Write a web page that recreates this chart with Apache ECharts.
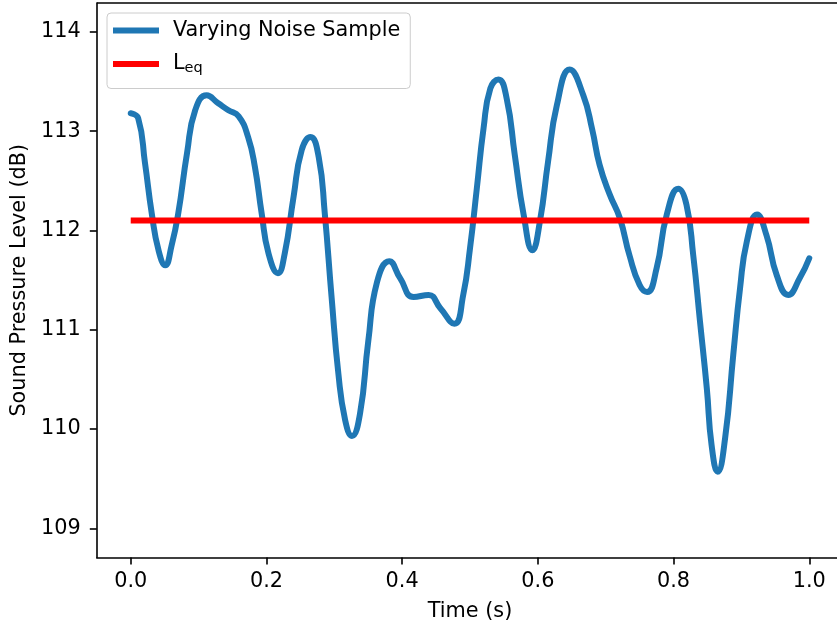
<!DOCTYPE html>
<html>
<head>
<meta charset="utf-8">
<script src="https://cdn.jsdelivr.net/npm/echarts@6/dist/echarts.min.js"></script>
<style>html,body{margin:0;padding:0;background:#fff;}#c{width:837px;height:628px;}</style>
</head>
<body>
<div id="c"></div>
<script>
// Data
var timeValues = [0.000, 0.011, 0.021, 0.031, 0.041, 0.051, 0.060, 0.070, 0.083, 0.095,
  0.112, 0.129, 0.144, 0.159, 0.173, 0.183, 0.193, 0.203, 0.217, 0.227,
  0.240, 0.252, 0.265, 0.277, 0.286, 0.296, 0.306, 0.316, 0.326, 0.338,
  0.350, 0.363, 0.381, 0.397, 0.417, 0.439, 0.456, 0.477, 0.490, 0.500,
  0.510, 0.520, 0.530, 0.542, 0.554, 0.566, 0.579, 0.592, 0.603, 0.615,
  0.628, 0.647, 0.667, 0.680, 0.691, 0.706, 0.721, 0.735, 0.750, 0.761,
  0.775, 0.790, 0.807, 0.819, 0.829, 0.839, 0.849, 0.856, 0.865, 0.876,
  0.888, 0.898, 0.908, 0.923, 0.937, 0.952, 0.969, 0.986, 1.000];
var splValues = [113.18, 113.13, 112.68, 112.17, 111.80, 111.65, 111.84, 112.17, 112.78, 113.21,
  113.36, 113.28, 113.21, 113.15, 112.94, 112.64, 112.17, 111.77, 111.57, 111.77,
  112.34, 112.81, 112.94, 112.74, 112.17, 111.33, 110.56, 110.09, 109.93, 110.16,
  110.88, 111.48, 111.69, 111.52, 111.33, 111.35, 111.22, 111.06, 111.35, 111.82,
  112.42, 113.03, 113.43, 113.52, 113.33, 112.76, 112.16, 111.80, 112.09, 112.69,
  113.26, 113.62, 113.36, 113.02, 112.66, 112.36, 112.12, 111.75, 111.45, 111.38,
  111.62, 112.16, 112.42, 112.26, 111.75, 111.08, 110.41, 109.84, 109.57, 109.91,
  110.75, 111.42, 111.89, 112.16, 111.95, 111.55, 111.35, 111.52, 111.72];
var leqTimes = [0.0, 1.0];
var leqValue = 112.10;
var xTickValues = [0.0, 0.2, 0.4, 0.6, 0.8, 1.0];
var yTickValues = [109, 110, 111, 112, 113, 114];

var noiseData = timeValues.map(function (t, i) { return [t, splValues[i]]; });
var leqData = leqTimes.map(function (t) { return [t, leqValue]; });

var FONT = 'DejaVu Sans';
var FS = 20.8;
var chart = echarts.init(document.getElementById('c'), null, {renderer: 'canvas'});
chart.setOption({
  animation: false,
  backgroundColor: '#ffffff',
  textStyle: {fontFamily: FONT},
  grid: {left: 96.8, top: 3, width: 746.4, height: 554.5, containLabel: false, outerBoundsMode: 'none'},
  legend: {
    orient: 'vertical',
    left: 107, top: 13,
    padding: [5, 10, 12, 6],
    itemGap: 8.5,
    itemWidth: 46, itemHeight: 6,
    backgroundColor: 'rgba(255,255,255,0.8)',
    borderColor: '#cccccc', borderWidth: 1, borderRadius: 4,
    textStyle: {
      fontFamily: FONT, fontSize: FS, color: '#000', lineHeight: 25, padding: [0, 0, 0, 9],
      rich: {
        sub: {fontFamily: FONT, fontSize: 14.5, color: '#000', padding: [9, 0, 0, 0]}
      }
    },
    data: [
      {name: 'Varying Noise Sample', icon: 'rect'},
      {name: 'Leq', icon: 'rect'}
    ],
    formatter: function (n) { return n === 'Leq' ? 'L{sub|eq}' : n; }
  },
  xAxis: {
    type: 'value', min: -0.05, max: 1.05,
    name: 'Time (s)', nameLocation: 'middle', nameGap: 44,
    nameTextStyle: {fontFamily: FONT, fontSize: FS, color: '#000'},
    axisLine: {show: true, onZero: false, lineStyle: {color: '#000', width: 1.6}},
    axisTick: {show: true, inside: false, length: 7, lineStyle: {color: '#000', width: 1.6}, customValues: xTickValues},
    axisLabel: {fontFamily: FONT, fontSize: FS, color: '#000', margin: 14, customValues: xTickValues,
      formatter: function (v) { return v.toFixed(1); }},
    splitLine: {show: false}
  },
  yAxis: {
    type: 'value', min: 108.707, max: 114.29,
    name: 'Sound Pressure Level (dB)', nameLocation: 'middle', nameGap: 64, nameRotate: 90,
    nameTextStyle: {fontFamily: FONT, fontSize: FS, color: '#000'},
    axisLine: {show: true, onZero: false, lineStyle: {color: '#000', width: 1.6}},
    axisTick: {show: true, inside: false, length: 7, lineStyle: {color: '#000', width: 1.6}, customValues: yTickValues},
    axisLabel: {fontFamily: FONT, fontSize: FS, color: '#000', margin: 16, customValues: yTickValues},
    splitLine: {show: false}
  },
  series: [
    {
      name: 'Varying Noise Sample', type: 'line', data: noiseData,
      smooth: 0.5, showSymbol: false, symbol: 'none',
      lineStyle: {color: '#1f77b4', width: 6, cap: 'round', join: 'round'},
      itemStyle: {color: '#1f77b4'}, z: 2
    },
    {
      name: 'Leq', type: 'line', data: leqData,
      showSymbol: false, symbol: 'none',
      lineStyle: {color: '#ff0000', width: 6, cap: 'butt'},
      itemStyle: {color: '#ff0000'}, z: 3
    }
  ],
  graphic: [
    {type: 'line', shape: {x1: 96.8, y1: 3, x2: 845, y2: 3}, style: {stroke: '#000', lineWidth: 1.6}, silent: true, z: 10}
  ]
});
</script>
</body>
</html>
